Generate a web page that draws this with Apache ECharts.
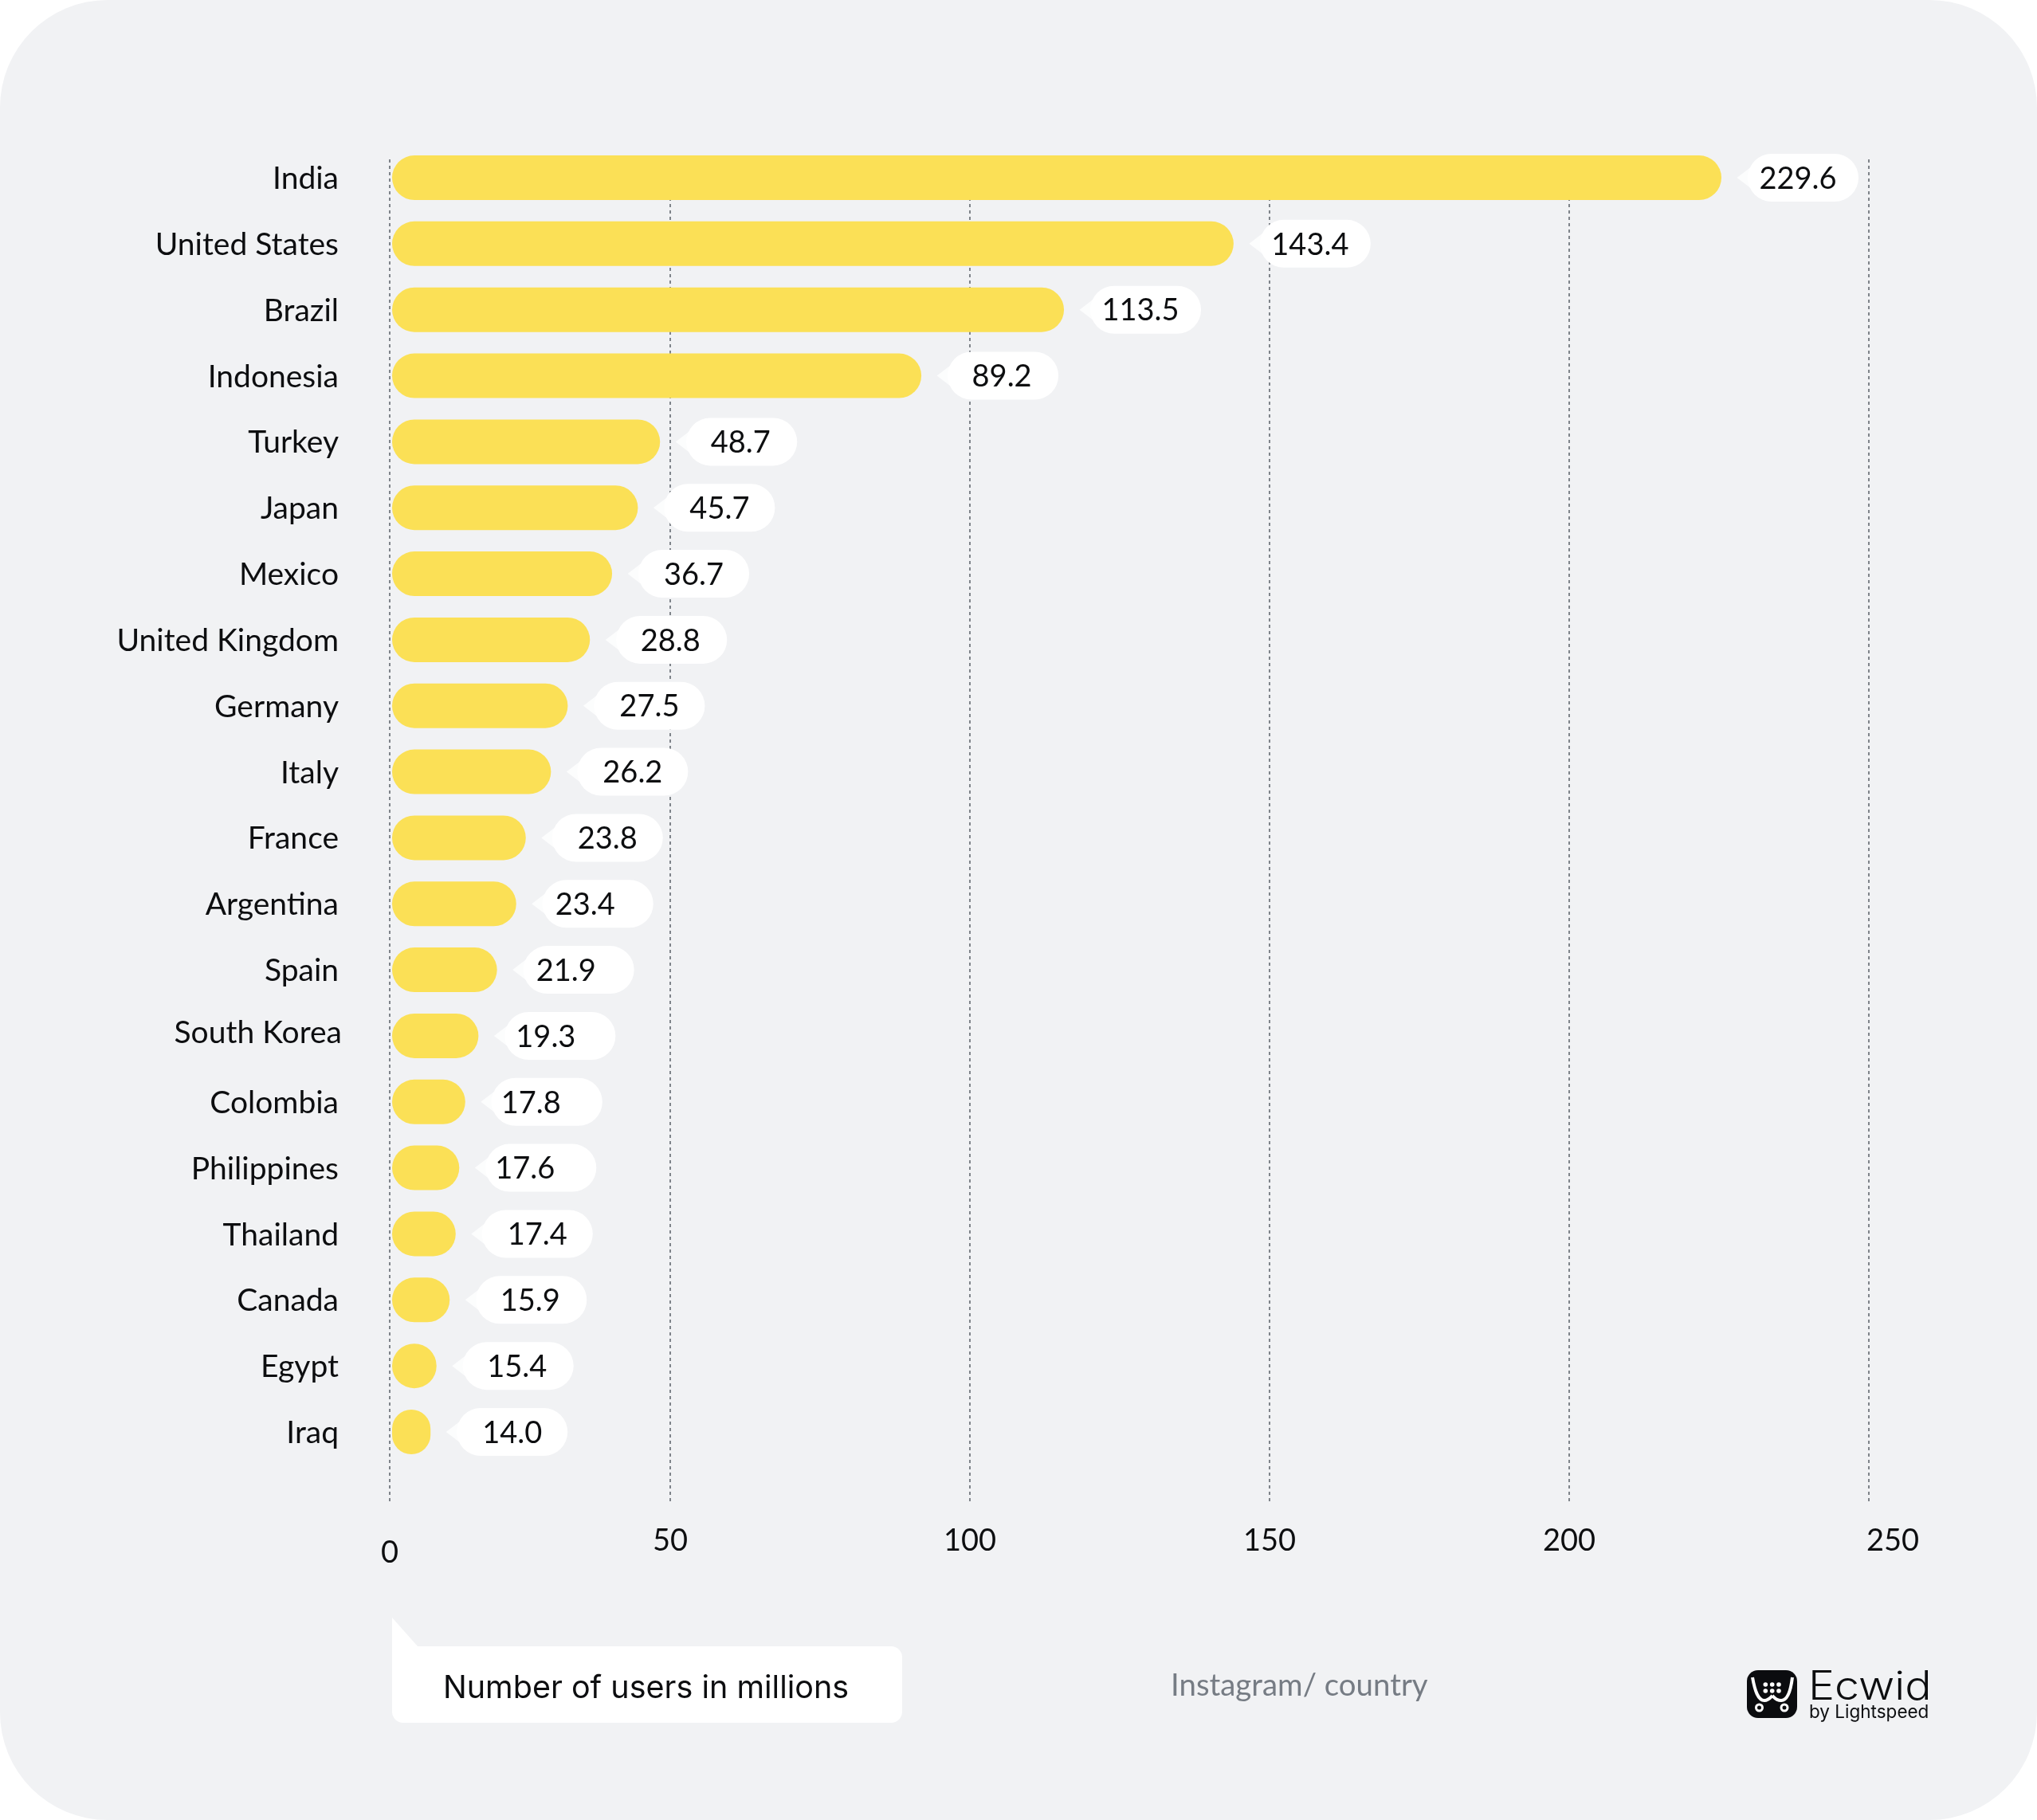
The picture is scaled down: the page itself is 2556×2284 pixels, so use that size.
<!DOCTYPE html>
<html>
<head>
<meta charset="utf-8">
<style>
html,body{margin:0;padding:0;background:#fff}
#chart{width:2556px;height:2284px;background:#f1f2f4;border-radius:135px;overflow:hidden}
</style>
<script src="https://cdn.jsdelivr.net/npm/echarts@6/dist/echarts.min.js"></script>
</head>
<body>
<div id="chart"></div>
<script>
const categories = ['India','United States','Brazil','Indonesia','Turkey','Japan','Mexico','United Kingdom','Germany','Italy','France','Argentina','Spain','South Korea','Colombia','Philippines','Thailand','Canada','Egypt','Iraq'];
// numbers printed in the white bubbles
const printedValues = ['229.6','143.4','113.5','89.2','48.7','45.7','36.7','28.8','27.5','26.2','23.8','23.4','21.9','19.3','17.8','17.6','17.4','15.9','15.4','14.0'];
// where each yellow bar actually ends, read against the 50-250 gridlines
const barEnds = [225.4,144.0,115.7,91.9,48.3,44.6,40.3,36.6,32.9,30.1,25.9,24.3,21.1,18.0,15.8,14.8,14.2,13.2,11.0,10.0];
const tickValues = [50,100,150,200,250];

// off-centre placement of the text inside each bubble (style, not data)
const bubbleTextInset = [13,13,13,3,3,0,0,3,0,0,0,32,32,36,40,40,0,3,3,0];

const ZERO_LINE = 3.19, BAR_BASE = 3.59, AXIS_MAX = 250;
const FONT = 'Lato';
const INK = '#0d0e10';

const bubbleRich = {};
bubbleTextInset.forEach(function(inset,i){
  bubbleRich['v'+i] = {
    width:139-inset, height:57, lineHeight:57, padding:[3,inset,0,0], align:'center',
    backgroundColor:'#ffffff', borderRadius:30, color:INK, fontFamily:FONT, fontSize:38
  };
});

const chart = echarts.init(document.getElementById('chart'), null, {renderer:'canvas', width:2556, height:2284});

chart.setOption({
  animation:false,
  backgroundColor:'transparent',
  grid:[
    {left:489, right:211, top:200, height:1688},
    {left:492, right:211, top:181.6, height:1656.8}
  ],
  xAxis:[
    {
      gridIndex:0, type:'value', min:ZERO_LINE, max:AXIS_MAX,
      axisLine:{show:false},
      axisTick:{show:false, customValues:[ZERO_LINE].concat(tickValues)},
      splitLine:{show:true, showMinLine:true, showMaxLine:true, lineStyle:{color:'#7f848a', width:2, type:[4,4]}},
      axisLabel:{
        customValues:[ZERO_LINE].concat(tickValues),
        margin:27, color:INK, fontFamily:FONT, fontSize:38,
        showMinLabel:true, showMaxLabel:true, hideOverlap:false,
        formatter:function(v){
          if(v===ZERO_LINE) return '{zero|0}';
          if(v===250) return '{last|250}';
          return String(v);
        },
        rich:{
          zero:{padding:[15,0,0,0], color:INK, fontFamily:FONT, fontSize:38},
          last:{padding:[0,0,0,60], color:INK, fontFamily:FONT, fontSize:38}
        }
      }
    },
    {gridIndex:1, type:'value', min:BAR_BASE, max:AXIS_MAX, show:false, splitLine:{show:false}}
  ],
  yAxis:[
    {gridIndex:0, type:'value', show:false, splitLine:{show:false}},
    {
      gridIndex:1, type:'category', inverse:true, data:categories,
      axisLine:{show:false}, axisTick:{show:false}, splitLine:{show:false},
      axisLabel:{
        margin:63, interval:0, color:INK, fontFamily:FONT, fontSize:39,
        formatter:function(v){ return v==='South Korea' ? '{sk|'+v+'}' : '{n|'+v+'}'; },
        rich:{
          n:{padding:[3,4,0,0], color:INK, fontFamily:FONT, fontSize:39},
          sk:{padding:[0,0,7,0], color:INK, fontFamily:FONT, fontSize:39}
        }
      }
    }
  ],
  series:[
    {
      name:'Tail', type:'scatter', xAxisIndex:1, yAxisIndex:1, silent:true, clip:false,
      data:barEnds.map(function(v,i){return [v,categories[i]];}),
      symbol:'triangle', symbolRotate:90, symbolSize:[26,17], symbolOffset:[28,0],
      itemStyle:{color:'#ffffff'}, z:3
    },
    {
      name:'Users', type:'bar', xAxisIndex:1, yAxisIndex:1, silent:true,
      data:barEnds, barWidth:56,
      itemStyle:{color:'#fbe056', borderRadius:28},
      z:4,
      label:{
        show:true, position:'right', distance:33,
        formatter:function(p){ return '{v'+p.dataIndex+'|'+printedValues[p.dataIndex]+'}'; },
        rich:bubbleRich
      }
    }
  ],
  graphic:[
    {type:'rect', silent:true, shape:{x:492,y:2066,width:640,height:96,r:14}, style:{fill:'#fff'}},
    {type:'polygon', silent:true, shape:{points:[[492,2030],[524,2066],[524,2090],[492,2090]]}, style:{fill:'#fff'}},
    {type:'text', silent:true, x:556, y:2119, style:{text:'Number of users in millions', fill:INK, font:'400 39.5px Inter', textVerticalAlign:'middle'}},
    {type:'text', silent:true, x:1469, y:2116, style:{text:'Instagram/ country', fill:'#767c84', font:'400 38.4px '+FONT, textVerticalAlign:'middle'}},
    {type:'rect', silent:true, shape:{x:2192,y:2096,width:63,height:60,r:14}, style:{fill:'#0b0c0f'}},
    ...[
      [2199,2105,2202,2122,2206,2134,2214,2134],
      [2214,2134,2219,2134,2222,2130,2224,2128],
      [2224,2128,2226,2130,2229,2134,2235,2134],
      [2235,2134,2243,2134,2247,2122,2249,2105]
    ].map(function(s){
      return {type:'bezierCurve', silent:true,
        shape:{x1:s[0],y1:s[1],cpx1:s[2],cpy1:s[3],cpx2:s[4],cpy2:s[5],x2:s[6],y2:s[7]},
        style:{fill:'none', stroke:'#fff', lineWidth:4}};
    }),
    ...[[2215.3,2114],[2223.7,2114],[2232,2114],[2215.3,2122],[2223.7,2122],[2232,2122]].map(function(c){
      return {type:'circle', silent:true, shape:{cx:c[0],cy:c[1],r:2.8}, style:{fill:'#fff'}};
    }),
    ...[2207.5,2239].map(function(x){
      return {type:'circle', silent:true, shape:{cx:x,cy:2143,r:4}, style:{fill:'#0b0c0f', stroke:'#fff', lineWidth:3}};
    }),
    {type:'text', silent:true, x:2269, y:2118, scaleX:1.11, style:{text:'Ecwid', fill:INK, font:'300 50px Inter', textVerticalAlign:'middle'}},
    {type:'text', silent:true, x:2270, y:2149, style:{text:'by Lightspeed', fill:INK, font:'400 22.5px Inter', textVerticalAlign:'middle'}}
  ]
});
</script>
</body>
</html>
